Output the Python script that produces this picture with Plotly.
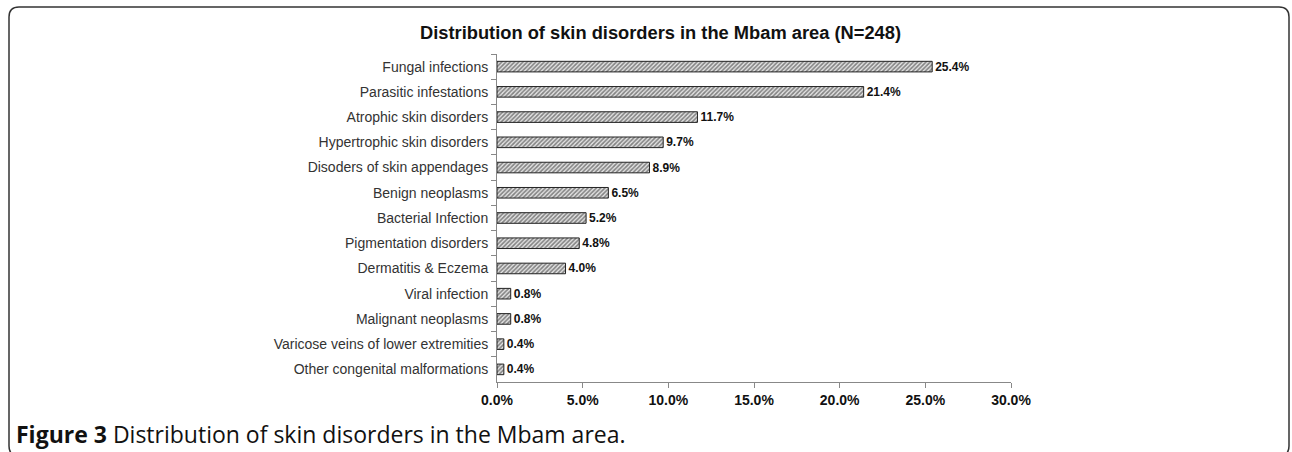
import plotly.graph_objects as go

categories = ["Fungal infections", "Parasitic infestations", "Atrophic skin disorders",
              "Hypertrophic skin disorders", "Disoders of skin appendages", "Benign neoplasms",
              "Bacterial Infection", "Pigmentation disorders", "Dermatitis & Eczema",
              "Viral infection", "Malignant neoplasms", "Varicose veins of lower extremities",
              "Other congenital malformations"]
values = [25.4, 21.4, 11.7, 9.7, 8.9, 6.5, 5.2, 4.8, 4.0, 0.8, 0.8, 0.4, 0.4]
x_ticks = [0, 5, 10, 15, 20, 25, 30]
x_ticklabels = ["0.0%", "5.0%", "10.0%", "15.0%", "20.0%", "25.0%", "30.0%"]

W, H = 1292, 452
def px(x): return x / W
def py(y): return 1 - y / H

fig = go.Figure(go.Bar(
    y=categories, x=values, orientation="h",
    marker=dict(color="white", line=dict(color="#222", width=1),
                pattern=dict(shape="/", fgcolor="#222", bgcolor="#e6e6e6", size=3, solidity=0.55)),
    text=[f"{v:.1f}%" for v in values], textposition="outside", constraintext="none",
    textfont=dict(family="Liberation Sans, Arial", size=12, color="#111", weight="bold"),
    cliponaxis=False, width=0.42,
))

# rounded frame path
x0, y0, x1, y1, r = 9, 7, 1289, 456, 10
path = (f"M {px(x0)},{py(y0 + r)} Q {px(x0)},{py(y0)} {px(x0 + r)},{py(y0)} "
        f"L {px(x1 - r)},{py(y0)} Q {px(x1)},{py(y0)} {px(x1)},{py(y0 + r)} "
        f"L {px(x1)},{py(y1 - r)} Q {px(x1)},{py(y1)} {px(x1 - r)},{py(y1)} "
        f"L {px(x0 + r)},{py(y1)} Q {px(x0)},{py(y1)} {px(x0)},{py(y1 - r)} Z")

fig.update_layout(
    width=W, height=H, margin=dict(l=0, r=0, t=0, b=0, autoexpand=False),
    paper_bgcolor="white", plot_bgcolor="white", showlegend=False,
    font=dict(family="Liberation Sans, Arial", color="#222"),
    xaxis=dict(domain=[px(497), px(1011)], range=[0, 30], tickvals=x_ticks, ticktext=x_ticklabels,
               showgrid=False, zeroline=False, showline=True, linecolor="#888", linewidth=1,
               ticks="outside", ticklen=5, tickcolor="#888", automargin=False,
               tickfont=dict(size=14, color="#111", weight="bold")),
    yaxis=dict(domain=[py(382), py(54)], autorange="reversed", showgrid=False, zeroline=False,
               showline=True, linecolor="#888", linewidth=1, ticks="outside", ticklen=5,
               tickcolor="#888", tickson="boundaries", ticklabelstandoff=5, automargin=False,
               tickfont=dict(size=14, color="#333")),
    shapes=[dict(type="path", path=path, xref="paper", yref="paper",
                 line=dict(color="#333", width=1.5))],
    annotations=[
        dict(text="<b>Distribution of skin disorders in the Mbam area (N=248)</b>",
             x=px(660), y=py(32), xref="paper", yref="paper", xanchor="center", yanchor="middle",
             showarrow=False, font=dict(size=18.3, color="#111")),
        dict(text="<b>Figure 3</b> Distribution of skin disorders in the Mbam area.",
             x=px(14), y=py(434), xref="paper", yref="paper", xanchor="left", yanchor="middle",
             showarrow=False, font=dict(family="Open Sans", size=23, color="#111")),
    ],
)

fig.write_html("out.html")
